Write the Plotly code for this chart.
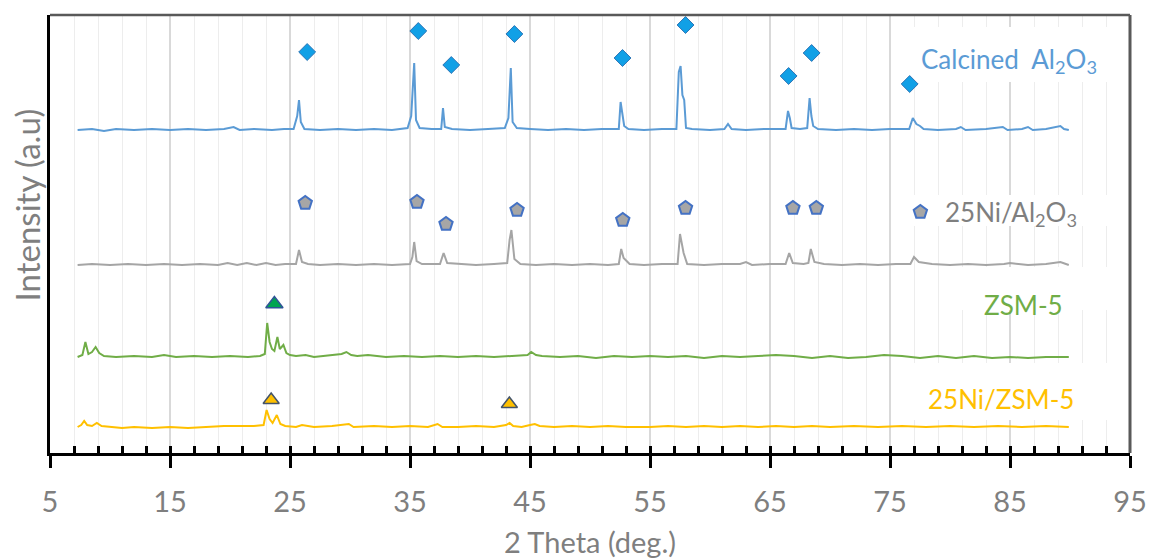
import plotly.graph_objects as go

# ---------------- XRD patterns (2θ in degrees, intensity in a.u. above each baseline) ----------------
calc_x = [7.3, 8.5, 9.5, 10.5, 12, 13.5, 15, 16.5, 18, 19.5, 20.3, 20.8, 22, 23.5, 24.5, 25.3,
          25.6, 25.75, 25.9, 26.2, 27.5, 29, 30.5, 32, 33.5, 34.8, 35.1, 35.25, 35.35, 35.5, 35.8,
          36.8, 37.6, 37.75, 37.9, 38.5, 40, 41.5, 42.9, 43.2, 43.3, 43.4, 43.55, 43.9, 45, 46.5,
          48, 49.5, 51, 52.4, 52.55, 52.7, 52.85, 53.2, 54.5, 56, 57.2, 57.4, 57.55, 57.7, 57.85,
          58.0, 58.5, 60, 61.2, 61.5, 61.8, 63, 64.5, 66.3, 66.5, 66.65, 66.8, 67.5, 68.1, 68.3,
          68.45, 68.6, 69, 70.5, 72, 73.5, 75, 76.6, 76.9, 77.2, 77.5, 77.8, 79, 80.5, 80.9, 81.3,
          83, 84.4, 84.8, 86, 86.5, 86.9, 88, 89.2, 89.5, 89.9]
calc_y = [0, 1, -1, 1, 0, 1, 0, 1, 0, 1, 3, 0, 1, 0, 1, 1,
          14, 30, 8, 1, 0, 1, 0, 1, 0, 2, 14, 48, 67, 10, 2,
          1, 1, 22, 3, 1, 0, 1, 2, 12, 48, 62, 8, 2, 1, 0,
          1, 0, 1, 1, 28, 17, 4, 1, 0, 1, 1, 58, 64, 35, 30,
          2, 1, 0, 1, 6, 1, 0, 1, 1, 19, 12, 2, 1, 2, 32,
          14, 4, 1, 0, 1, 0, 1, 1, 12, 6, 4, 1, 0, 1, 3, 0,
          1, 3, 0, 1, 3, 0, 1, 4, 1, 0]

nial_x = [7.3, 8.5, 10, 11.5, 13, 14.5, 16, 17.5, 19, 19.8, 20.6, 21.4, 22.2, 23, 23.8, 24.6,
          25.5, 25.75, 26.0, 26.5, 27.5, 29, 30.5, 32, 33.5, 35.0, 35.2, 35.35, 35.55, 36, 37.5,
          37.8, 38.1, 39, 40.5, 42, 43.1, 43.3, 43.45, 43.7, 44.2, 45.5, 47, 48.5, 50, 51.5, 52.4,
          52.6, 52.8, 53.3, 54.5, 56, 57.3, 57.5, 57.65, 57.8, 58.1, 59.5, 61, 62.5, 63, 63.5, 65,
          66.3, 66.6, 66.9, 67.8, 68.2, 68.4, 68.7, 69.5, 71, 72.5, 74, 75.5, 76.7, 77.0, 77.4,
          78.5, 80, 81.5, 83, 84.5, 85, 86.5, 88, 89.2, 89.9]
nial_y = [0, 1, 0, 1, 0, 1, 0, 1, 0, 2, 0, 2, 0, 2, 0, 1,
          1, 15, 3, 1, 0, 1, 0, 1, 0, 1, 8, 23, 4, 1, 1,
          12, 2, 1, 0, 1, 2, 25, 35, 6, 1, 0, 1, 0, 1, 0, 1,
          16, 7, 1, 0, 1, 1, 31, 20, 12, 1, 0, 1, 1, 3, 0, 1,
          1, 12, 2, 1, 2, 16, 3, 1, 0, 1, 0, 1, 1, 8, 3,
          1, 0, 1, 0, 1, 2, 0, 1, 3, 0]

zsm_x = [7.3, 7.7, 7.95, 8.2, 8.5, 8.8, 9.1, 9.5, 10.5, 12, 13.5, 14.5, 15.5, 17, 18.5, 20,
         21.5, 22.5, 22.9, 23.1, 23.3, 23.5, 23.7, 23.95, 24.15, 24.45, 24.7, 25, 25.5, 26.3, 27,
         28, 29.3, 29.7, 30.1, 30.6, 31.5, 33, 34.5, 36, 37.5, 39, 40.5, 42, 43.5, 44.8, 45.1,
         45.5, 46, 47.5, 49, 50.5, 52, 53.5, 55, 56.5, 58, 59.5, 61, 62.5, 64, 65.5, 67, 68.5,
         70, 71.5, 73, 74.5, 76, 77.5, 79, 80.5, 82, 83.5, 85, 86.5, 88, 89.9]
zsm_y = [0, 2, 15, 3, 5, 10, 4, 1, 0, 1, 0, 2, 0, 1, 0, 1,
         0, 1, 3, 34, 15, 8, 6, 20, 8, 12, 4, 2, 1, 2, 0,
         1, 3, 5, 2, 1, 2, 0, 1, 0, 1, 0, 1, 0, 1, 2, 5,
         2, 1, 0, 1, -1, 1, 0, 1, 0, 1, -1, 1, 0, 1, 2, 1, -1,
         1, -1, 0, 2, 1, -1, 1, -1, 1, -1, 0, -1, 0, 0]

nizsm_x = [7.3, 7.6, 7.85, 8.1, 8.5, 8.9, 9.3, 10, 11, 12, 13.5, 15, 16.5, 18, 19.5, 21, 22,
           22.8, 23.05, 23.3, 23.55, 23.9, 24.2, 24.6, 25.5, 26, 27, 28.5, 29.9, 30.3, 32, 33.5,
           35, 36.5, 37.3, 37.7, 39, 40.5, 42, 43.0, 43.3, 43.6, 44.3, 45.0, 45.4, 45.8, 47, 48.5,
           50, 51.5, 53, 55, 56.5, 58, 59.5, 61, 62.5, 64, 65.5, 67, 68.5, 70, 72, 74, 76, 78, 80,
           82, 84, 86, 88, 89.9]
nizsm_y = [0, 2, 6, 2, 1, 4, 1, 0, -1, 0, -1, 0, -1, 0, 1, 1, 1,
           2, 17, 8, 4, 12, 3, 1, 0, 2, 0, 1, 3, 0, 1, 0,
           1, 0, 3, 0, 0, 1, 0, 2, 4, 1, 0, 2, 3, 1, 0, 1,
           0, 1, 0, 0, 1, 0, 1, 0, 1, 0, 1, 0, 1, 0, 1, 0, 1, 0, 1,
           0, 1, 0, 1, 0]

# vertical stacking offsets of the four patterns (a.u.)
offsets = [323, 188, 96, 26]

# ---------------- phase markers ----------------
alumina_x = [26.43, 35.69, 38.44, 43.70, 52.71, 57.96, 66.55, 68.47, 76.64]
alumina_y = [401, 422, 388, 419, 395, 428, 377, 400, 369]
ni_x = [26.27, 35.58, 38.0, 43.92, 52.73, 57.96, 66.91, 68.86, 77.53]
ni_y = [250, 251, 229, 243, 233, 245, 245, 245, 241]
zsm_mark_x = [23.7]
zsm_mark_y = [149]
nizsm_mark_x = [23.43, 43.28]
nizsm_mark_y = [53, 49]

labels = ["Calcined  Al<sub>2</sub>O<sub>3</sub>", "25Ni/Al<sub>2</sub>O<sub>3</sub>", "ZSM-5", "25Ni/ZSM-5"]
label_x = [77.4, 79.4, 82.7, 78.0]
label_y = [393, 240, 148, 54]
line_colors = ["#5B9BD5", "#A5A5A5", "#70AD47", "#FFC000"]
label_colors = ["#5B9BD5", "#7F7F7F", "#70AD47", "#FFC000"]

FONT = "Lato"

fig = go.Figure()

series = [(calc_x, calc_y), (nial_x, nial_y), (zsm_x, zsm_y), (nizsm_x, nizsm_y)]
for (xs, ys), off, col in zip(series, offsets, line_colors):
    fig.add_trace(go.Scatter(x=xs, y=[v + off for v in ys], mode="lines",
                             line=dict(color=col, width=2), hoverinfo="skip", showlegend=False))

fig.add_trace(go.Scatter(x=alumina_x, y=alumina_y, mode="markers", showlegend=False,
                         marker=dict(symbol="diamond", size=13, color="#11A0E6",
                                     line=dict(color="#2E75B6", width=1))))
fig.add_trace(go.Scatter(x=ni_x, y=ni_y, mode="markers", showlegend=False,
                         marker=dict(symbol="pentagon", size=14, color="#A6A6A6",
                                     line=dict(color="#4472C4", width=2))))
fig.add_trace(go.Scatter(x=zsm_mark_x, y=zsm_mark_y, mode="markers", showlegend=False,
                         marker=dict(symbol="triangle-up", size=15, color="#00A550",
                                     line=dict(color="#2F5597", width=1.5))))
fig.add_trace(go.Scatter(x=nizsm_mark_x, y=nizsm_mark_y, mode="markers", showlegend=False,
                         marker=dict(symbol="triangle-up", size=14, color="#FFC000",
                                     line=dict(color="#44546A", width=1.5))))

# white panels behind the sample names (cover the grid, stay under the traces)
panels = [(76.8, 94.2, 371, 426), (76.8, 94.2, 227, 258), (80.7, 94.2, 143, 186), (76.8, 94.2, 33, 90)]
for x0, x1, y0, y1 in panels:
    fig.add_shape(type="rect", xref="x", yref="y", x0=x0, x1=x1, y0=y0, y1=y1,
                  fillcolor="white", line=dict(width=0), layer="between")

for txt, lx, ly, col in zip(labels, label_x, label_y, label_colors):
    fig.add_annotation(x=lx, y=ly, xref="x", yref="y", text=txt, showarrow=False,
                       xanchor="left", yanchor="middle",
                       font=dict(family=FONT, size=26, color=col))

# plot frame: dark grey top and right edges
fig.add_shape(type="line", xref="paper", yref="paper", x0=0, x1=1, y0=1, y1=1,
              line=dict(color="#595959", width=2.5))
fig.add_shape(type="line", xref="paper", yref="paper", x0=1, x1=1, y0=0, y1=1,
              line=dict(color="#595959", width=3))

fig.add_annotation(text="2 Theta (deg.)", xref="paper", yref="paper", x=0.5, y=-0.203,
                   showarrow=False, xanchor="center", yanchor="middle",
                   font=dict(family=FONT, size=29, color="#7F7F7F"))
fig.add_annotation(text="Intensity (a.u)", xref="paper", yref="paper", x=-0.021, y=0.566,
                   showarrow=False, xanchor="center", yanchor="middle", textangle=-90,
                   font=dict(family=FONT, size=33, color="#7F7F7F"))

fig.update_layout(
    width=1151, height=560,
    margin=dict(l=50, r=21, t=15, b=107),
    paper_bgcolor="white", plot_bgcolor="white",
    xaxis=dict(range=[5, 95], tick0=5, dtick=10, showgrid=True, gridcolor="#D9D9D9", gridwidth=2,
               minor=dict(tick0=5, dtick=2, showgrid=True, gridcolor="#EDEDED", gridwidth=1),
               ticks="outside", ticklen=12, tickwidth=3, tickcolor="black",
               ticklabelstandoff=9, automargin=False,
               showline=True, linecolor="black", linewidth=3, zeroline=False,
               tickfont=dict(family=FONT, size=29, color="#7F7F7F")),
    xaxis2=dict(range=[5, 95], overlaying="x", anchor="y", side="bottom", tick0=5, dtick=2,
                ticks="inside", ticklen=7, tickwidth=3, tickcolor="black", automargin=False,
                showticklabels=False, showgrid=False, showline=False, zeroline=False),
    yaxis=dict(range=[0, 438], showgrid=False, zeroline=False, showticklabels=False,
               ticks="", showline=True, linecolor="black", linewidth=2.5, automargin=False),
)
# invisible trace to bring up the overlay axis carrying the inner ticks
fig.add_trace(go.Scatter(x=[5], y=[0], xaxis="x2", mode="markers", marker=dict(opacity=0),
                         showlegend=False, hoverinfo="skip"))

fig.write_html("out.html")
